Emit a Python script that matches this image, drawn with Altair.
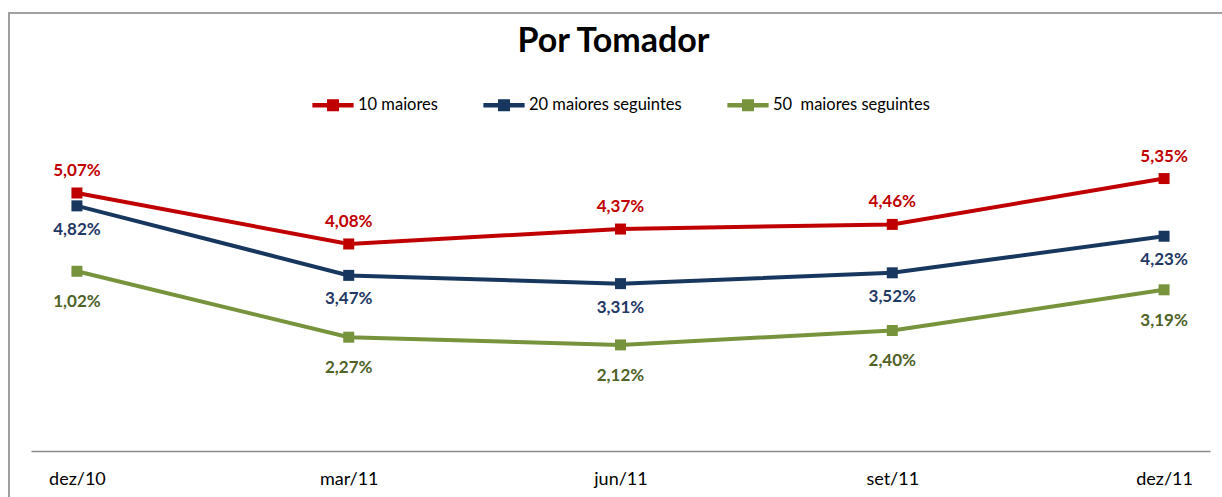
import altair as alt
import pandas as pd

categories = ["dez/10", "mar/11", "jun/11", "set/11", "dez/11"]
series_names = ["10 maiores", "20 maiores seguintes", "50\u00a0 maiores seguintes"]
red_values = [5.07, 4.08, 4.37, 4.46, 5.35]
blue_values = [4.82, 3.47, 3.31, 3.52, 4.23]
green_values = [3.55, 2.27, 2.12, 2.40, 3.19]
red_labels = ["5,07%", "4,08%", "4,37%", "4,46%", "5,35%"]
blue_labels = ["4,82%", "3,47%", "3,31%", "3,52%", "4,23%"]
green_labels = ["1,02%", "2,27%", "2,12%", "2,40%", "3,19%"]
title_text = "Por Tomador"

line_colors = ["#C00000", "#17375E", "#77933C"]
label_colors = ["#C00000", "#1F3864", "#4F6228"]
label_dy = [-22, 24, 31]

rows = []
for s, vals, labs in zip(series_names, [red_values, blue_values, green_values],
                         [red_labels, blue_labels, green_labels]):
    for i, (c, v, l) in enumerate(zip(categories, vals, labs)):
        rows.append({"serie": s, "mes": c, "ordem": i, "valor": v, "rotulo": l})
df = pd.DataFrame(rows)

FONT = "Lato"
W, H = 1179, 309

x_enc = alt.X("mes:N", sort=categories,
              scale=alt.Scale(type="point", padding=0.169),
              axis=alt.Axis(title=None, labelAngle=0, ticks=False, domainColor="#888888",
                            domainWidth=1.5, labelFont=FONT, labelFontSize=18,
                            labelColor="#000000", labelPadding=19, grid=False))
y_enc = alt.Y("valor:Q", scale=alt.Scale(domain=[0.06, 6.06], nice=False, zero=False), axis=None)
color_enc = alt.Color("serie:N", sort=series_names,
                      scale=alt.Scale(domain=series_names, range=line_colors),
                      legend=alt.Legend(title=None, orient="none", direction="horizontal",
                                        legendX=281, legendY=-58,
                                        symbolType="M-1,-0.11L1,-0.11L1,0.11L-1,0.11Z M-0.29,-0.29L0.29,-0.29L0.29,0.29L-0.29,0.29Z",
                                        symbolSize=1700, symbolStrokeWidth=0,
                                        labelFont=FONT, labelFontSize=16.5, labelColor="#000000",
                                        labelOffset=4, columnPadding=45))

base = alt.Chart(df)
lines = base.mark_line(strokeWidth=4).encode(x=x_enc, y=y_enc, color=color_enc,
                                             order=alt.Order("ordem:Q"))
points = base.mark_point(shape="square", filled=True, size=121, opacity=1).encode(
    x=x_enc, y=y_enc, color=color_enc)

texts = []
for s, col, dy in zip(series_names, label_colors, label_dy):
    texts.append(base.transform_filter(alt.datum.serie == s).mark_text(
        dy=dy, font=FONT, fontSize=17, fontWeight="bold", color=col
    ).encode(x=x_enc, y=y_enc, text="rotulo:N"))

title = alt.Chart(pd.DataFrame({"t": [title_text]})).mark_text(
    font=FONT, fontSize=34, fontWeight="bold", color="#000000", baseline="alphabetic",
    align="center").encode(x=alt.value(W / 2 - 7), y=alt.value(-90), text="t:N")

frame = alt.Chart(pd.DataFrame({"k": [0]})).mark_rect(
    fill=None, stroke="#A0A0A0", strokeWidth=2).encode(
    x=alt.value(-22), x2=alt.value(W + 40), y=alt.value(-129), y2=alt.value(H + 100))

chart = alt.layer(frame, title, lines, points, *texts).properties(
    width=W, height=H,
    autosize=alt.AutoSizeParams(type="none"),
    padding={"left": 31, "top": 142, "right": 12, "bottom": 46},
    background="#FFFFFF",
).configure_view(stroke=None)

chart.save("out.html", embed_options={"renderer": "svg", "actions": False})
